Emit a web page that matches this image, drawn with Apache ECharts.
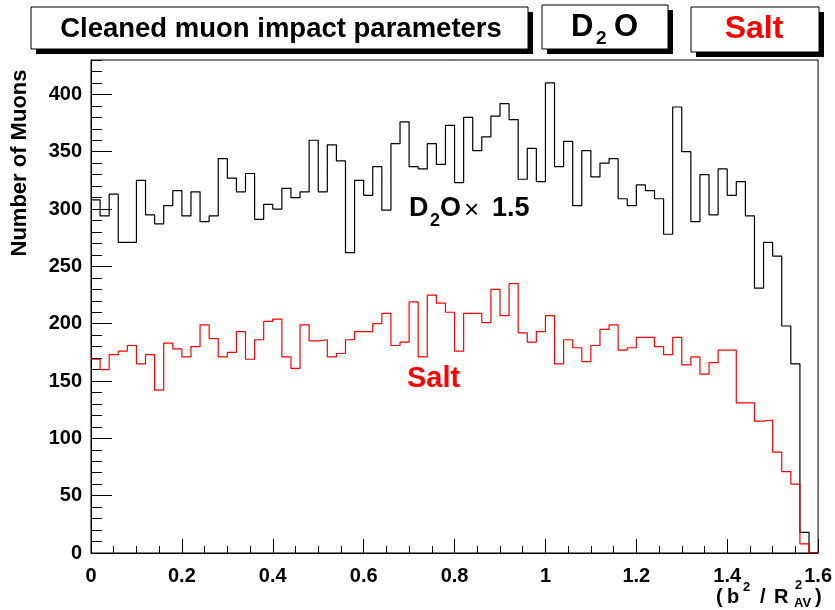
<!DOCTYPE html>
<html>
<head>
<meta charset="utf-8">
<script src="https://cdn.jsdelivr.net/npm/echarts@6/dist/echarts.min.js"></script>
<style>
html,body{margin:0;padding:0;background:#fff;}
#chart{width:835px;height:610px;}
</style>
</head>
<body>
<div id="chart"></div>
<script>
// ---- data ----
var xMin = 0, xMax = 1.6, nBins = 80;
// D2O histogram, scaled by 1.5 (as plotted)
var d2oScaled = [
 308,294,313,271,271,325,295,287,303,316,
 294,315,289,294,344,327,315,331,291,304,
 300,318,310,315,360,315,356,342,262,325,
 312,337,299,357,376,337,335,357,339,373,
 323,380,351,363,381,392,378,326,353,324,
 410,337,359,303,351,328,340,344,309,303,
 321,316,309,278,389,350,289,330,295,335,
 312,324,294,231,271,259,198,165,18,0
];
// Salt histogram
var salt = [
 169,160,173,176,181,165,173,142,183,178,
 171,180,199,187,171,175,193,169,186,202,
 204,171,161,199,185,186,171,174,186,193,
 193,200,209,181,184,219,171,225,218,210,
 176,209,209,201,230,207,235,192,184,193,
 207,165,186,179,167,181,195,199,177,179,
 188,188,180,173,188,164,171,156,166,177,
 177,131,131,115,116,88,71,60,8,0
];
var yTicks = {min:0, max:430, interval:50};
var xTicks = {min:0, max:1.6, interval:0.2};

var FONT = '"Liberation Sans", Arial, Helvetica, sans-serif';

function histEdges(vals){
  var w = (xMax - xMin) / vals.length;
  var out = [];
  for (var i = 0; i < vals.length; i++) out.push([xMin + i*w, vals[i]]);
  out.push([xMax, vals[vals.length-1]]);
  return out;
}

function box(x, y, w, h){
  return [
    {type:'rect', shape:{x:x+5, y:y+5, width:w, height:h}, style:{fill:'#000'}, z:100},
    {type:'rect', shape:{x:x, y:y, width:w, height:h}, style:{fill:'#fff', stroke:'#000', lineWidth:1}, z:101}
  ];
}
function txt(t, x, y, size, opts){
  opts = opts || {};
  return {type:'text', x:x, y:y, rotation:opts.rotation||0, z:102,
    style:{text:t, fill:opts.color||'#000', font:(opts.weight||'bold')+' '+size+'px '+FONT,
      align:opts.align||'left', verticalAlign:opts.va||'middle'}};
}

var graphics = [].concat(
  box(31, 7, 497, 42),
  box(542, 5, 126, 44),
  box(691, 7, 128, 45),
  [
    txt('Cleaned muon impact parameters', 281, 29, 27.5, {align:'center'}),
    txt('D', 571, 27, 31),
    txt('2', 596, 39, 19),
    txt('O', 614, 27, 31),
    txt('Salt', 754, 29, 32, {align:'center', color:'#ff0000'}),
    // in-plot labels
    txt('D', 409, 209, 27),
    txt('2', 430, 221, 18),
    txt('O', 440, 209, 27),
    txt('\u00d7', 464, 211, 26, {weight:'normal'}),
    txt('1.5', 492, 209, 27),
    txt('Salt', 407, 379, 29, {color:'#ff0000'}),
    // y axis title
    txt('Number of Muons', 20, 163, 22, {align:'center', rotation:Math.PI/2}),
    // x axis title
    txt('(', 716, 597, 20),
    txt('b', 727, 597, 20),
    txt('2', 743, 587, 13),
    txt('/', 760, 597, 20),
    txt('R', 774, 597, 20),
    txt('2', 795, 585, 13),
    txt('AV', 794, 603, 13),
    txt(')', 815, 597, 20)
  ]
);

var chart = echarts.init(document.getElementById('chart'), null, {renderer:'canvas'});
var labelStyle = {color:'#000', fontSize:20, fontWeight:'bold', fontFamily:FONT};
chart.setOption({
  animation:false,
  backgroundColor:'#fff',
  grid:{left:91, right:15, top:60, bottom:57, show:true, borderColor:'#000', borderWidth:1, backgroundColor:'transparent'},
  xAxis:{type:'value', min:xTicks.min, max:xTicks.max, interval:xTicks.interval,
    axisLine:{show:true, onZero:false, lineStyle:{color:'#000', width:1}},
    axisTick:{show:true, inside:true, length:14, lineStyle:{color:'#000', width:1}},
    minorTick:{show:true, splitNumber:4, length:7, lineStyle:{color:'#000', width:1}},
    splitLine:{show:false},
    axisLabel:Object.assign({margin:13}, labelStyle)
  },
  yAxis:[
    {type:'value', min:yTicks.min, max:yTicks.max, interval:yTicks.interval,
      axisLine:{show:true, onZero:false, lineStyle:{color:'#000', width:1}},
      axisTick:{show:true, inside:true, length:21, lineStyle:{color:'#000', width:1}},
      splitLine:{show:false},
      axisLabel:Object.assign({margin:9, showMaxLabel:false}, labelStyle)
    },
    {type:'value', min:yTicks.min, max:yTicks.max, interval:10, position:'left', offset:0,
      axisLine:{show:false},
      axisTick:{show:true, inside:true, length:11, lineStyle:{color:'#000', width:1}},
      splitLine:{show:false},
      axisLabel:{show:false}
    }
  ],
  series:[
    {type:'line', step:'end', data:histEdges(d2oScaled), symbol:'none', yAxisIndex:0,
      lineStyle:{color:'#000', width:1.2}, z:2},
    {type:'line', step:'end', data:histEdges(salt), symbol:'none', yAxisIndex:0,
      lineStyle:{color:'#ff0000', width:1.2}, z:3}
  ],
  graphic:graphics
});
</script>
</body>
</html>
